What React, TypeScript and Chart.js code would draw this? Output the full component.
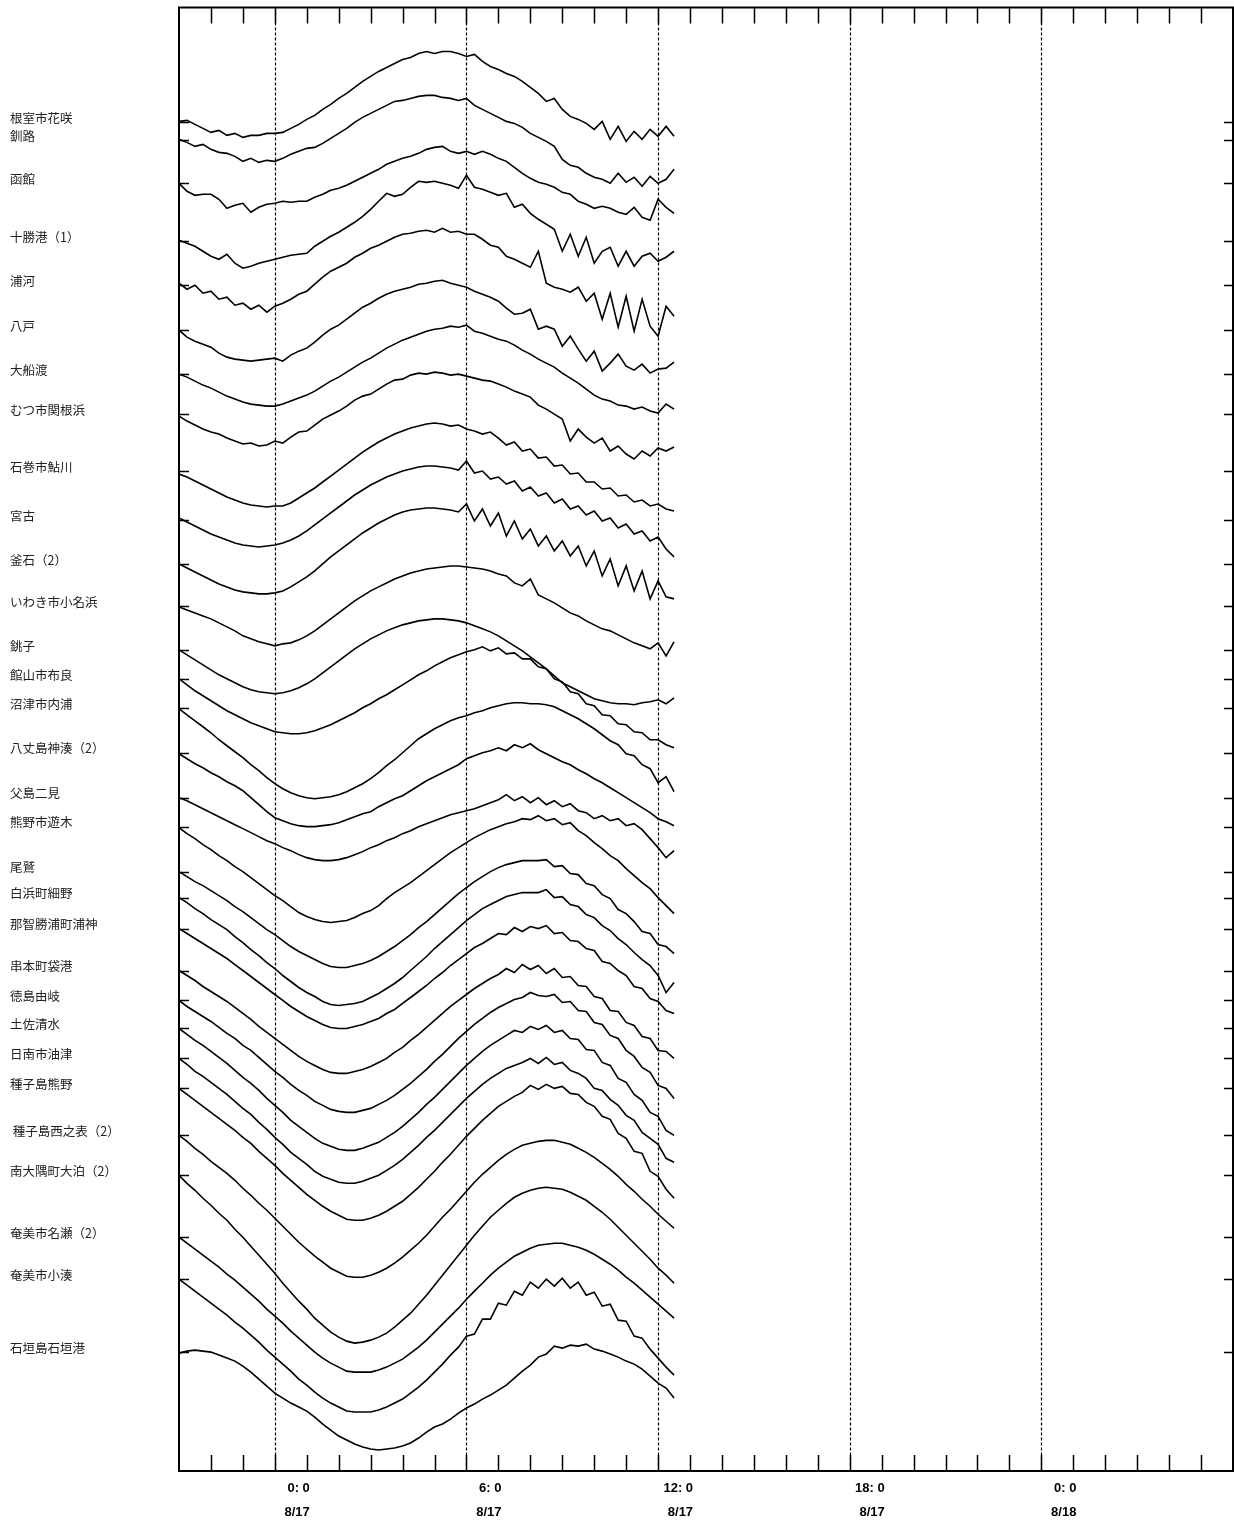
import React, { useEffect, useRef } from "react";
import { Chart, registerables } from "chart.js";

Chart.register(...registerables);

// Station names (top to bottom)
const STATIONS = [
  "根室市花咲", "釧路", "函館", "十勝港（1）", "浦河", "八戸", "大船渡", "むつ市関根浜",
  "石巻市鮎川", "宮古", "釜石（2）", "いわき市小名浜", "銚子", "館山市布良", "沼津市内浦",
  "八丈島神湊（2）", "父島二見", "熊野市遊木", "尾鷲", "白浜町細野", "那智勝浦町浦神",
  "串本町袋港", "徳島由岐", "土佐清水", "日南市油津", "種子島熊野", " 種子島西之表（2）",
  "南大隅町大泊（2）", "奄美市名瀬（2）", "奄美市小湊", "石垣島石垣港",
];

// Display offset of each station's zero line (cm on the shared vertical scale)
const OFFSETS = [
  1350, 1332, 1289, 1231, 1187, 1142, 1098, 1058, 1001, 952, 908, 866, 822, 793, 764,
  719, 674, 645, 600, 574, 543, 501, 471, 443, 413, 383, 336, 296, 234, 192, 119,
];

// Observation times, hours from 8/17 0:00
const HOURS = [
  -3, -2.75, -2.5, -2.25, -2, -1.75, -1.5, -1.25, -1, -0.75, -0.5, -0.25,
  0, 0.25, 0.5, 0.75, 1, 1.25, 1.5, 1.75, 2, 2.25, 2.5, 2.75,
  3, 3.25, 3.5, 3.75, 4, 4.25, 4.5, 4.75, 5, 5.25, 5.5, 5.75,
  6, 6.25, 6.5, 6.75, 7, 7.25, 7.5, 7.75, 8, 8.25, 8.5, 8.75,
  9, 9.25, 9.5, 9.75, 10, 10.25, 10.5, 10.75, 11, 11.25, 11.5, 11.75,
  12, 12.25, 12.5,
];

// Tide level anomalies (cm) per station, one value per HOURS entry
const NEMURO = [1,2,-2,-6,-10,-8,-13,-11,-15,-13,-13,-11,-11,-10,-6,-2,3,7,13,18,24,29,35,41,46,51,55,59,63,65,69,71,69,71,71,69,66,68,61,56,53,49,46,41,35,29,21,24,13,6,3,-1,-7,1,-17,-4,-19,-9,-17,-7,-14,-4,-14];
const KUSHIRO = [1,-2,-6,-4,-9,-12,-13,-16,-21,-18,-22,-20,-21,-18,-14,-11,-8,-7,-3,2,7,12,18,23,27,31,35,39,40,42,44,45,45,43,42,40,42,35,31,27,23,19,17,13,7,3,-1,-6,-19,-25,-27,-33,-37,-39,-43,-33,-42,-37,-46,-36,-43,-39,-29];
const HAKODATE = [0,-8,-12,-11,-11,-16,-25,-22,-20,-29,-24,-21,-20,-18,-19,-18,-18,-14,-11,-7,-5,-2,2,6,10,14,19,22,25,27,30,34,36,37,32,30,32,29,32,29,25,22,16,10,5,1,-1,-4,-9,-11,-18,-21,-25,-23,-25,-29,-31,-24,-34,-37,-16,-24,-30];
const TOKACHI = [1,-2,-5,-10,-15,-18,-13,-22,-27,-25,-22,-20,-18,-16,-14,-13,-12,-5,0,5,9,14,19,25,32,40,48,45,47,54,60,59,60,58,56,53,66,54,52,49,46,48,34,37,28,22,17,12,-10,7,-15,4,-22,-10,-6,-25,-10,-25,-15,-12,-20,-16,-10];
const URAKAWA = [2,-4,0,-8,-6,-14,-12,-20,-18,-24,-20,-27,-21,-18,-14,-9,-6,1,8,14,18,22,28,32,37,40,44,48,51,52,54,55,53,57,53,54,51,51,46,40,38,29,26,22,18,34,2,-2,-4,-7,-2,-16,-8,-34,-8,-42,-11,-46,-14,-41,-51,-21,-31];
const HACHINOHE = [0,-7,-11,-14,-17,-23,-27,-29,-30,-31,-30,-29,-28,-31,-25,-21,-18,-12,-5,1,5,11,17,23,27,32,36,39,41,43,46,47,49,50,47,45,43,39,36,33,29,22,16,17,21,1,4,1,-16,-6,-19,-31,-21,-41,-33,-24,-36,-40,-34,-43,-39,-38,-32];
const OFUNATO = [0,-3,-7,-11,-14,-18,-22,-25,-28,-30,-31,-32,-32,-30,-27,-24,-21,-17,-12,-7,-3,2,7,12,16,21,26,30,34,37,40,43,45,46,48,47,49,43,41,38,35,33,29,24,20,15,11,7,1,-4,-9,-15,-21,-25,-27,-31,-32,-35,-33,-37,-39,-30,-35];
const MUTSU = [-2,-7,-11,-15,-18,-20,-24,-27,-30,-29,-32,-31,-27,-29,-23,-18,-17,-11,-5,-1,3,8,14,18,20,25,30,34,35,39,41,40,42,41,39,40,38,36,34,33,30,27,23,20,17,9,5,0,-5,-27,-15,-23,-29,-24,-37,-32,-40,-45,-37,-42,-34,-37,-33];
const AYUKAWA = [-3,-6,-10,-14,-18,-22,-26,-29,-32,-34,-35,-36,-35,-35,-32,-27,-22,-17,-11,-5,1,7,13,19,24,29,33,37,40,43,45,47,48,47,45,46,42,40,37,39,33,26,29,20,22,13,14,5,6,-3,-2,-11,-11,-18,-17,-25,-24,-31,-29,-35,-33,-38,-40];
const MIYAKO = [2,-2,-6,-10,-14,-17,-20,-23,-25,-26,-27,-26,-25,-23,-20,-16,-11,-5,1,7,13,19,25,30,35,39,43,46,49,51,53,54,54,53,52,50,59,47,49,41,43,36,39,29,33,24,27,17,21,11,14,5,9,-1,2,-8,-4,-14,-11,-21,-17,-29,-37];
const KAMAISHI = [0,-4,-8,-12,-16,-20,-23,-26,-28,-29,-30,-30,-29,-27,-23,-18,-13,-7,0,7,13,19,25,31,36,41,45,49,52,54,55,56,56,55,54,52,60,43,55,38,51,28,43,25,35,18,28,13,23,8,18,-2,13,-12,5,-22,-2,-27,-7,-35,-17,-33,-35];
const ONAHAMA = [-1,-4,-7,-10,-13,-17,-21,-25,-30,-33,-36,-38,-40,-38,-37,-34,-30,-25,-19,-13,-7,-1,5,10,15,19,23,27,30,33,35,37,38,39,40,40,39,38,37,35,32,30,23,20,27,11,7,3,-2,-7,-10,-15,-19,-23,-25,-29,-33,-37,-40,-43,-37,-50,-36];
const CHOSHI = [0,-5,-10,-15,-20,-25,-29,-33,-37,-40,-42,-43,-44,-43,-41,-38,-34,-29,-23,-17,-11,-5,1,6,11,15,19,22,25,27,29,30,31,31,30,29,27,24,21,18,14,9,4,-1,-7,-13,-19,-26,-33,-37,-41,-45,-49,-51,-53,-54,-54,-55,-53,-52,-50,-54,-48];
const MERA = [0,-6,-12,-17,-22,-27,-32,-36,-40,-44,-47,-50,-53,-54,-55,-55,-54,-52,-49,-46,-42,-38,-34,-29,-25,-20,-16,-11,-6,-1,4,8,13,17,21,24,27,29,32,28,31,25,26,20,20,12,10,0,-3,-13,-15,-25,-27,-36,-37,-45,-46,-53,-54,-61,-61,-66,-69];
const UCHIURA = [-1,-7,-13,-19,-25,-32,-38,-44,-50,-57,-63,-70,-76,-81,-85,-88,-90,-91,-90,-89,-87,-84,-80,-76,-71,-65,-58,-52,-45,-38,-31,-26,-21,-17,-13,-10,-8,-5,-3,0,2,4,5,5,4,4,3,1,-3,-7,-11,-16,-21,-27,-33,-37,-46,-48,-57,-61,-75,-69,-84];
const YAENE = [-1,-6,-11,-15,-20,-24,-29,-33,-38,-45,-52,-59,-65,-68,-71,-73,-74,-74,-73,-72,-70,-67,-64,-61,-59,-54,-50,-46,-43,-38,-33,-28,-24,-20,-16,-12,-6,-3,0,2,5,2,8,5,9,3,-1,-5,-9,-12,-17,-21,-26,-30,-35,-40,-45,-50,-55,-60,-66,-69,-73];
const CHICHIJIMA = [0,-3,-7,-11,-15,-19,-23,-27,-31,-35,-39,-43,-46,-50,-53,-57,-60,-62,-63,-63,-62,-60,-57,-54,-50,-47,-43,-40,-36,-33,-29,-26,-23,-20,-17,-15,-13,-11,-8,-5,-2,3,-3,1,-5,0,-7,-3,-9,-6,-13,-15,-21,-18,-23,-21,-28,-26,-32,-41,-50,-60,-53];
const KUMANO = [-1,-7,-12,-18,-23,-29,-34,-40,-45,-51,-57,-63,-69,-74,-80,-86,-90,-93,-95,-96,-95,-94,-91,-87,-84,-79,-72,-66,-61,-56,-50,-44,-38,-32,-26,-21,-16,-11,-7,-3,0,3,5,8,7,11,6,8,2,4,-4,-9,-16,-22,-29,-34,-42,-49,-56,-62,-71,-79,-87];
const OWASE = [0,-5,-10,-14,-19,-24,-29,-35,-40,-46,-52,-58,-63,-69,-75,-80,-84,-88,-92,-95,-96,-96,-94,-92,-89,-85,-80,-75,-69,-63,-56,-50,-43,-36,-29,-22,-16,-10,-5,0,4,7,9,11,11,11,12,5,6,-2,-3,-12,-14,-23,-27,-38,-42,-50,-60,-62,-73,-75,-82];
const SHIRAHAMA = [0,-5,-11,-16,-22,-27,-32,-39,-45,-52,-58,-65,-71,-78,-84,-90,-95,-99,-104,-107,-108,-107,-106,-104,-100,-96,-91,-86,-80,-73,-66,-59,-51,-44,-37,-30,-23,-17,-11,-7,-3,1,3,5,5,5,8,0,1,-7,-9,-17,-20,-28,-33,-41,-47,-55,-62,-68,-78,-95,-85];
const URAGAMI = [0,-5,-10,-15,-20,-25,-30,-36,-42,-48,-54,-60,-66,-72,-78,-83,-88,-92,-96,-99,-100,-100,-98,-96,-93,-90,-85,-81,-75,-69,-63,-57,-50,-44,-37,-31,-25,-19,-15,-10,-5,-6,1,-3,2,0,3,-5,-4,-12,-13,-20,-22,-33,-35,-42,-47,-58,-60,-70,-73,-82,-85];
const KUSHIMOTO = [0,-5,-10,-16,-21,-26,-31,-37,-43,-49,-56,-62,-68,-74,-80,-86,-91,-95,-99,-102,-103,-103,-101,-99,-96,-92,-88,-82,-77,-70,-64,-57,-50,-43,-36,-30,-24,-18,-13,-8,-4,2,-2,6,1,5,-3,2,-7,-6,-15,-16,-26,-28,-40,-41,-52,-55,-66,-68,-80,-81,-88];
const YUKI = [0,-6,-11,-16,-21,-27,-33,-38,-45,-50,-57,-64,-71,-77,-84,-90,-95,-101,-105,-109,-111,-112,-112,-110,-108,-104,-100,-95,-89,-83,-76,-69,-61,-54,-46,-38,-31,-24,-18,-12,-7,-3,1,3,8,5,4,6,-2,-1,-10,-11,-22,-24,-35,-38,-50,-56,-67,-72,-85,-88,-98];
const TOSASHIMIZU = [0,-6,-12,-17,-23,-29,-35,-42,-49,-55,-62,-70,-77,-84,-92,-98,-104,-110,-115,-118,-121,-122,-122,-120,-117,-114,-109,-104,-98,-91,-84,-76,-69,-61,-53,-45,-37,-30,-23,-17,-12,-7,-2,-4,2,-1,3,-4,-2,-10,-11,-21,-22,-34,-37,-50,-54,-66,-72,-84,-88,-102,-107];
const ABURATSU = [0,-6,-13,-18,-24,-30,-36,-43,-50,-56,-64,-71,-79,-86,-94,-100,-106,-113,-118,-121,-124,-125,-125,-123,-120,-117,-112,-107,-101,-94,-87,-79,-72,-64,-56,-48,-40,-33,-26,-20,-15,-10,-7,-4,0,-5,1,-6,-4,-12,-15,-20,-30,-32,-41,-47,-57,-62,-74,-80,-86,-100,-104];
const TANE_KUMANO = [0,-6,-12,-18,-24,-30,-36,-42,-49,-55,-63,-70,-77,-85,-92,-99,-106,-112,-118,-123,-127,-131,-132,-132,-130,-127,-123,-118,-113,-106,-99,-91,-83,-74,-66,-57,-48,-40,-32,-25,-18,-13,-8,-4,3,-1,4,0,2,-5,-6,-14,-18,-28,-31,-45,-50,-63,-65,-83,-88,-101,-110];
const NISHINOOMOTE = [0,-6,-13,-19,-26,-32,-38,-45,-53,-60,-68,-75,-83,-91,-99,-107,-114,-121,-127,-133,-137,-141,-142,-142,-140,-137,-133,-128,-122,-115,-108,-100,-91,-82,-74,-65,-56,-47,-39,-32,-25,-19,-14,-10,-8,-6,-5,-5,-7,-9,-13,-17,-22,-28,-34,-41,-49,-56,-64,-71,-79,-86,-93];
const ODOMARI = [0,-8,-15,-23,-30,-38,-45,-54,-62,-71,-80,-89,-98,-108,-117,-126,-134,-143,-150,-157,-162,-166,-168,-167,-165,-162,-158,-152,-145,-138,-129,-120,-110,-100,-90,-80,-70,-60,-51,-42,-35,-28,-22,-18,-15,-13,-12,-13,-14,-17,-21,-25,-31,-37,-44,-52,-60,-68,-76,-84,-93,-100,-108];
const NAZE = [0,-6,-12,-18,-24,-30,-37,-43,-50,-57,-64,-72,-79,-86,-94,-101,-108,-115,-121,-126,-130,-134,-135,-135,-135,-133,-130,-126,-122,-116,-110,-103,-95,-87,-79,-71,-62,-54,-46,-38,-31,-25,-19,-15,-11,-8,-7,-6,-6,-8,-10,-13,-17,-22,-27,-33,-40,-46,-53,-60,-67,-74,-81];
const KOMINATO = [0,-6,-12,-18,-24,-30,-36,-43,-49,-56,-63,-71,-78,-85,-92,-100,-106,-113,-119,-124,-128,-132,-133,-133,-133,-131,-128,-124,-120,-114,-108,-101,-93,-85,-76,-68,-57,-55,-40,-40,-24,-26,-12,-16,-3,-9,0,-7,1,-9,-3,-16,-13,-27,-25,-41,-42,-57,-59,-70,-79,-88,-96];
const ISHIGAKI = [-1,1,2,1,0,-3,-6,-9,-14,-20,-27,-34,-41,-46,-51,-55,-59,-65,-72,-78,-84,-88,-92,-95,-97,-98,-97,-96,-94,-91,-86,-80,-75,-72,-67,-61,-56,-52,-47,-43,-38,-33,-26,-19,-13,-5,-2,6,4,7,6,8,3,1,-2,-5,-9,-12,-17,-24,-31,-36,-46];

const SERIES = [
  NEMURO, KUSHIRO, HAKODATE, TOKACHI, URAKAWA, HACHINOHE, OFUNATO, MUTSU,
  AYUKAWA, MIYAKO, KAMAISHI, ONAHAMA, CHOSHI, MERA, UCHIURA, YAENE, CHICHIJIMA,
  KUMANO, OWASE, SHIRAHAMA, URAGAMI, KUSHIMOTO, YUKI, TOSASHIMIZU, ABURATSU,
  TANE_KUMANO, NISHINOOMOTE, ODOMARI, NAZE, KOMINATO, ISHIGAKI,
];

// Time axis
const X_MIN = -3;
const X_MAX = 30;
const TICK_HOURS = [0, 6, 12, 18, 24];
const TIME_LABELS = ["0: 0", "6: 0", "12: 0", "18: 0", "0: 0"];
const DATE_LABELS = ["8/17", "8/17", "8/17", "8/17", "8/18"];
const Y_MAX = 1465;

const framePlugin = {
  id: "tideFrame",
  beforeDatasetsDraw(chart: any) {
    const { ctx, chartArea: a, scales } = chart;
    const x = scales.x;
    ctx.save();
    ctx.strokeStyle = "#000";
    ctx.lineWidth = 1.2;
    ctx.setLineDash([3, 2]);
    for (const h of TICK_HOURS) {
      const px = Math.round(x.getPixelForValue(h)) + 0.5;
      ctx.beginPath();
      ctx.moveTo(px, a.top);
      ctx.lineTo(px, a.bottom);
      ctx.stroke();
    }
    ctx.restore();
  },
  afterDatasetsDraw(chart: any) {
    const { ctx, chartArea: a, scales } = chart;
    const x = scales.x;
    const y = scales.y;
    ctx.save();
    ctx.strokeStyle = "#000";
    ctx.lineWidth = 1.5;
    ctx.beginPath();
    for (let h = X_MIN + 1; h < X_MAX; h++) {
      const px = Math.round(x.getPixelForValue(h)) + 0.5;
      ctx.moveTo(px, a.top);
      ctx.lineTo(px, a.top + 16);
      ctx.moveTo(px, a.bottom);
      ctx.lineTo(px, a.bottom - 16);
    }
    for (const v of OFFSETS) {
      const py = Math.round(y.getPixelForValue(v)) + 0.5;
      ctx.moveTo(a.left, py);
      ctx.lineTo(a.left + 10, py);
      ctx.moveTo(a.right - 9, py);
      ctx.lineTo(a.right, py);
    }
    ctx.stroke();
    ctx.lineWidth = 2;
    ctx.strokeRect(a.left, a.top, a.right - a.left, a.bottom - a.top);
    ctx.restore();
  },
};

export default function App() {
  const canvasRef = useRef<HTMLCanvasElement | null>(null);

  useEffect(() => {
    document.body.style.margin = "0";
    const canvas = canvasRef.current;
    if (!canvas) return;
    const chart = new Chart(canvas, {
      type: "line",
      data: {
        datasets: SERIES.map((vals, i) => ({
          label: STATIONS[i],
          data: vals.map((v, j) => ({ x: HOURS[j], y: OFFSETS[i] + v })),
          borderColor: "#000",
          borderWidth: 1.6,
          pointRadius: 0,
          tension: 0,
          fill: false,
        })),
      },
      options: {
        animation: false,
        responsive: false,
        events: [],
        layout: { padding: { left: 10, right: 1, top: 6, bottom: 0 } },
        plugins: { legend: { display: false }, tooltip: { enabled: false } },
        scales: {
          x: {
            type: "linear",
            min: X_MIN,
            max: X_MAX,
            grid: { display: false, drawTicks: false },
            border: { display: false },
            afterFit: (s: any) => {
              s.height = 52;
            },
            afterBuildTicks: (s: any) => {
              s.ticks = TICK_HOURS.map((v) => ({ value: v }));
            },
            ticks: {
              autoSkip: false,
              maxRotation: 0,
              minRotation: 0,
              align: "end",
              labelOffset: 35,
              padding: 5,
              color: "#000",
              font: { family: '"Liberation Sans", Arial, sans-serif', size: 13, weight: "bold", lineHeight: 24 / 13 },
              callback: (_v: any, i: number) => [TIME_LABELS[i], DATE_LABELS[i]],
            },
          },
          y: {
            type: "linear",
            min: 0,
            max: Y_MAX,
            grid: { display: false, drawTicks: false },
            border: { display: false },
            afterFit: (s: any) => {
              s.width = 169;
            },
            afterBuildTicks: (s: any) => {
              s.ticks = OFFSETS.map((v) => ({ value: v }));
            },
            ticks: {
              autoSkip: false,
              crossAlign: "far",
              labelOffset: -4,
              padding: 0,
              color: "#222",
              font: { family: '"Noto Sans CJK JP", sans-serif', size: 12.5 },
              callback: (_v: any, i: number) => STATIONS[i],
            },
          },
        },
      } as any,
      plugins: [framePlugin],
    });
    return () => chart.destroy();
  }, []);

  return (
    <div style={{ position: "absolute", left: 0, top: 0, width: 1234, height: 1523 }}>
      <canvas
        ref={canvasRef}
        width={1234}
        height={1523}
        style={{ display: "block", width: 1234, height: 1523 }}
      />
    </div>
  );
}
